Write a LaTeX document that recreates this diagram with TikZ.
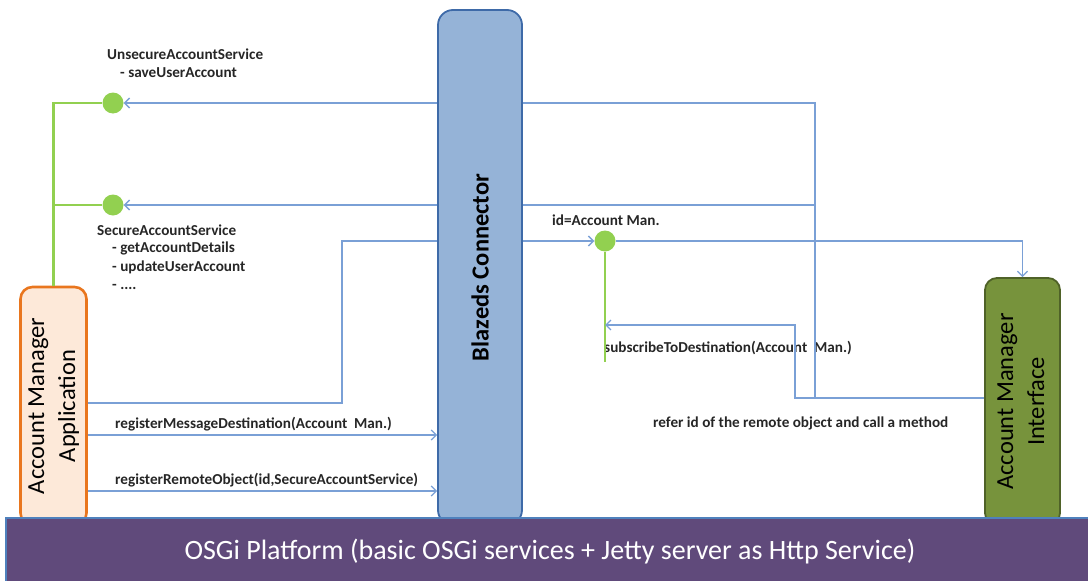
\documentclass[tikz,border=0pt]{standalone}
\usepackage{fontspec}
\setmainfont{Carlito}
\usetikzlibrary{arrows.meta}
\usetikzlibrary{positioning}
\definecolor{apporange}{RGB}{233,118,30}
\definecolor{appfill}{RGB}{253,233,217}
\definecolor{blazefill}{RGB}{149,179,215}
\definecolor{blazeblue}{RGB}{62,106,168}
\definecolor{ifacefill}{RGB}{119,147,60}
\definecolor{ifacedark}{RGB}{79,98,40}
\definecolor{platpurple}{RGB}{96,74,123}
\definecolor{platblue}{RGB}{79,129,189}
\definecolor{lineblue}{RGB}{122,160,214}
\definecolor{dotgreen}{RGB}{146,208,80}
\definecolor{labelgray}{RGB}{38,38,38}
\tikzset{
	box/.style={draw, rounded corners=12pt, line width=1.8pt, inner sep=0pt, align=center,
			font=\fontsize{24.5}{31}\selectfont},
	bline/.style={draw=lineblue, line width=1.3pt},
	gline/.style={draw=dotgreen, line width=2.4pt},
	svcdot/.style={circle, fill=dotgreen, minimum size=21pt, inner sep=0pt},
	lbl/.style={font=\bfseries\fontsize{15.2}{17}\selectfont, text=labelgray, inner sep=0pt, anchor=west},
	>={Straight Barb[length=5pt,width=10pt,line width=1.3pt]}
}

\begin{document}
\begin{tikzpicture}[x=1pt,y=-1pt]

					\useasboundingbox (0,0) rectangle (1088,581);

					% the three bundles
					\node[box, draw=apporange, fill=appfill, line width=2.6pt, minimum width=66pt, minimum height=238pt] (app) at (53.5,406)
						{\rotatebox{90}{\begin{tabular}{c}Account Manager\\Application\end{tabular}}};
					\node[box, draw=blazeblue, fill=blazefill, rounded corners=15pt, minimum width=84pt, minimum height=515pt] (blazeds) at (480,267.5)
						{\rotatebox{90}{\bfseries Blazeds Connector}};
					\node[box, draw=ifacedark, fill=ifacefill, minimum width=75pt, minimum height=247pt] (iface) at (1022.5,401.5)
						{\rotatebox{90}{\begin{tabular}{c}Account Manager\\Interface\end{tabular}}};

					% platform
					\node[draw=platblue, fill=platpurple, line width=1.8pt, minimum width=1088pt, minimum height=68pt,
						anchor=north west, text=white, font=\fontsize{28}{32}\selectfont] (platform) at (5,517)
						{OSGi Platform (basic OSGi services + Jetty server as Http Service)};

					% services
					\node[svcdot] (dotU) at (113,103) {};
					\node[svcdot] (dotS) at (113,205) {};
					\node[svcdot] (dotId) at (605,241) {};

					\coordinate (idEnd) at (605,362);
					\coordinate (destLow) at (342,403);
					\coordinate (msgY) at (0,435);
					\coordinate (objY) at (0,491);
					\coordinate (refer) at (815,398);
					\coordinate (subs) at (795,398);
					\coordinate (subsTop) at (795,325);

					% labels
					\node[lbl] (lblUnsec) at (107,54) {UnsecureAccountService};
					\node[lbl] (lblSave) at (120,73) {- saveUserAccount};
					\node[lbl] (lblSec) at (97,230) {SecureAccountService};
					\node[lbl] (lblGet) at (112,248) {- getAccountDetails};
					\node[lbl] (lblUpd) at (112,267) {- updateUserAccount};
					\node[lbl] (lblDots) at (112,287) {- ....};
					\node[lbl] (lblMsg) at (115,424) {registerMessageDestination(Account\ \ Man.)};
					\node[lbl] (lblObj) at (115,480) {registerRemoteObject(id,SecureAccountService)};
					\node[lbl] (lblId) at (552,220) {id=Account Man.};
					\node[lbl] (lblSubs) at (604,348) {subscribeToDestination(Account\ \ Man.)};
					\node[lbl] (lblRefer) at (653,423) {refer id of the remote object\ and\ call\ a method};

					% application side
					\draw[gline] (app.north) |- (dotU);
					\draw[gline] (app.north |- dotS) -- (dotS);
					\draw[bline,->] (blazeds.west |- dotU) -- (dotU);
					\draw[bline,->] (blazeds.west |- dotS) -- (dotS);
					\draw[bline] (app.east |- destLow) -- (destLow) |- (blazeds.west |- dotId);
					\draw[bline,->] (app.east |- msgY) -- (blazeds.west |- msgY);
					\draw[bline,->] (app.east |- objY) -- (blazeds.west |- objY);

					% interface side
					\draw[bline,->] (blazeds.east |- dotId) -- (dotId);
					\draw[bline,->] (dotId) -| (iface.north);
					\draw[gline] (dotId) -- (idEnd);
					\draw[bline,->] (iface.west |- subs) -- (subs) -- (subsTop) -- (idEnd |- subsTop);
					\draw[bline] (iface.west |- refer) -- (refer) |- (blazeds.east |- dotU);
					\draw[bline] (refer |- dotS) -- (blazeds.east |- dotS);

\end{tikzpicture}
\end{document}
